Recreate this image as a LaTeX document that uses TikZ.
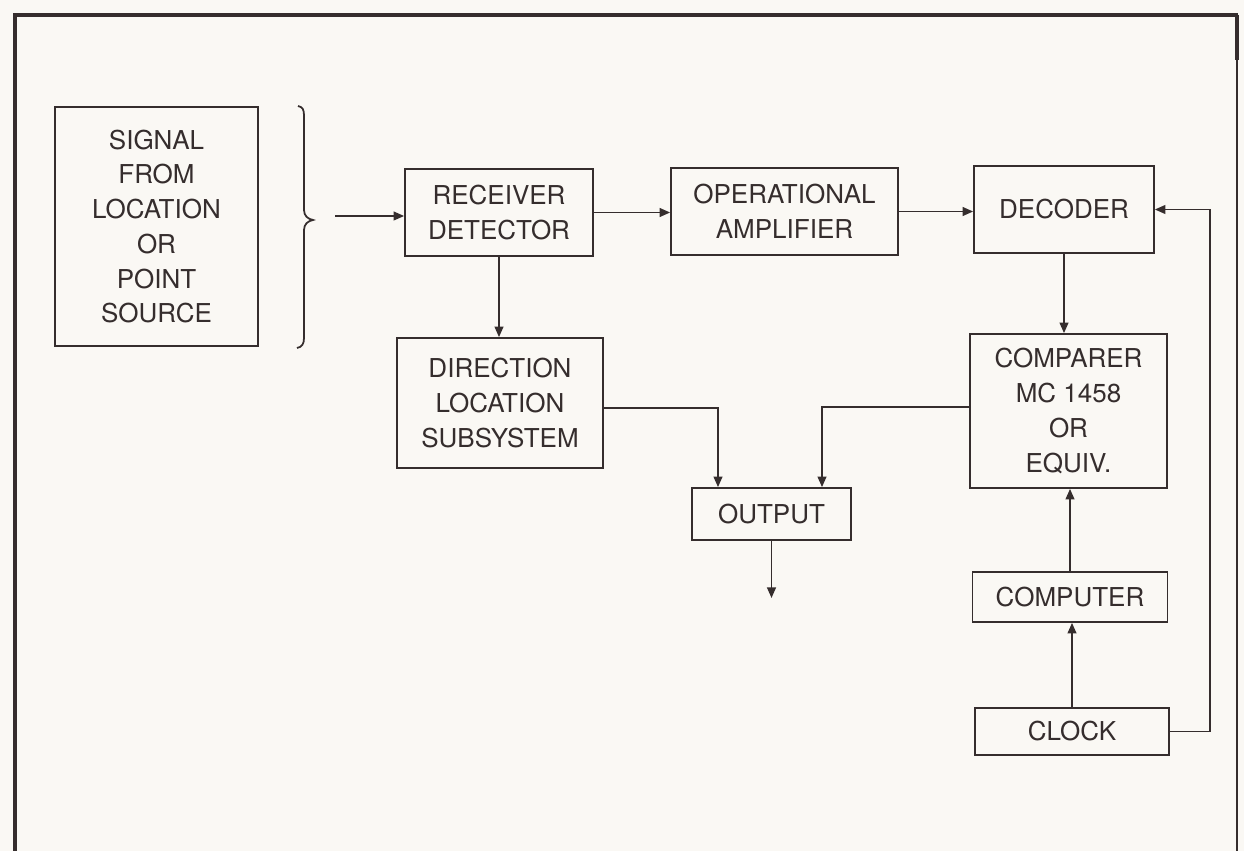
\documentclass[tikz,border=0pt]{standalone}
\usepackage{fontspec}
\setmainfont{TeX Gyre Heros}
\usetikzlibrary{arrows.meta,calc}
\definecolor{ink}{HTML}{352D2D}
\definecolor{paper}{HTML}{FAF8F4}
\begin{document}
\begin{tikzpicture}[x=0.02cm,y=-0.02cm,
  box/.style={draw=ink, line width=1pt, text=ink, align=center, inner sep=0pt,
    font=\fontsize{14.8}{19.8}\selectfont},
  arr/.style={draw=ink, line width=1pt, -{Triangle[length=6pt,width=5pt]}},
  plain/.style={draw=ink, line width=1pt}]
\fill[paper] (0,0) rectangle (1244,851);
\useasboundingbox (0,0) rectangle (1244,851);
% frame
\draw[ink, line width=2.4pt] (15,851) -- (15,15) -- (1238,15);
\draw[ink, line width=2.4pt] (1237,15) -- (1237,60);
\draw[ink, line width=1.1pt] (1237,60) -- (1237,851);
% boxes
\node[box, minimum width=4.06cm, minimum height=4.78cm] (sig) at (156.5,226.5) {SIGNAL\\FROM\\LOCATION\\OR\\POINT\\SOURCE};
\node[box, minimum width=3.76cm, minimum height=1.74cm] (rec) at (499,212.5) {RECEIVER\\DETECTOR};
\node[box, minimum width=4.54cm, minimum height=1.74cm] (opa) at (784.5,211.5) {OPERATIONAL\\AMPLIFIER};
\node[box, minimum width=3.60cm, minimum height=1.74cm] (dec) at (1064,209.5) {DECODER};
\node[box, minimum width=4.12cm, minimum height=2.60cm] (dir) at (500,403) {DIRECTION\\LOCATION\\SUBSYSTEM};
\node[box, minimum width=3.94cm, minimum height=3.08cm] (cmpr) at (1068.5,411) {COMPARER\\MC 1458\\OR\\EQUIV.};
\node[box, minimum width=3.18cm, minimum height=1.04cm] (out) at (771.5,514) {OUTPUT};
\node[box, minimum width=3.90cm, minimum height=1.00cm] (cpu) at (1070,597) {COMPUTER};
\node[box, minimum width=3.88cm, minimum height=0.94cm] (clk) at (1072,731.5) {CLOCK};
% brace
\draw[plain] (298,106) .. controls (303,107) and (304,110) .. (304,116) -- (304,210)
  .. controls (304,216) and (308,219) .. (313,220)
  .. controls (308,221) and (304,224) .. (304,230) -- (304,338)
  .. controls (304,344) and (302,347) .. (297,348);
% connectors
\coordinate (inp) at (335,216);
\draw[arr] (inp) -- (inp -| rec.west);
\draw[arr] (rec.east) -- (rec.east -| opa.west);
\draw[arr] (opa.east) -- (opa.east -| dec.west);
\draw[arr] (rec.south) -- (rec.south |- dir.north);
\draw[arr] ($(dir.east)+(0,5)$) -| ($(out.north)+(-53.5,0)$);
\draw[arr] ($(cmpr.west)+(0,-4)$) -| ($(out.north)+(50.5,0)$);
\coordinate (outend) at (775,598);
\draw[arr] (out.south) -- (out.south |- outend);
\draw[arr] (dec.south) -- (dec.south |- cmpr.north);
\draw[arr] (cpu.north) -- (cpu.north |- cmpr.south);
\draw[arr] (clk.north) -- (clk.north |- cpu.south);
\coordinate (rt) at (1210,0);
\draw[arr] (clk.east) -- (clk.east -| rt) |- (dec.east);
\end{tikzpicture}
\end{document}
